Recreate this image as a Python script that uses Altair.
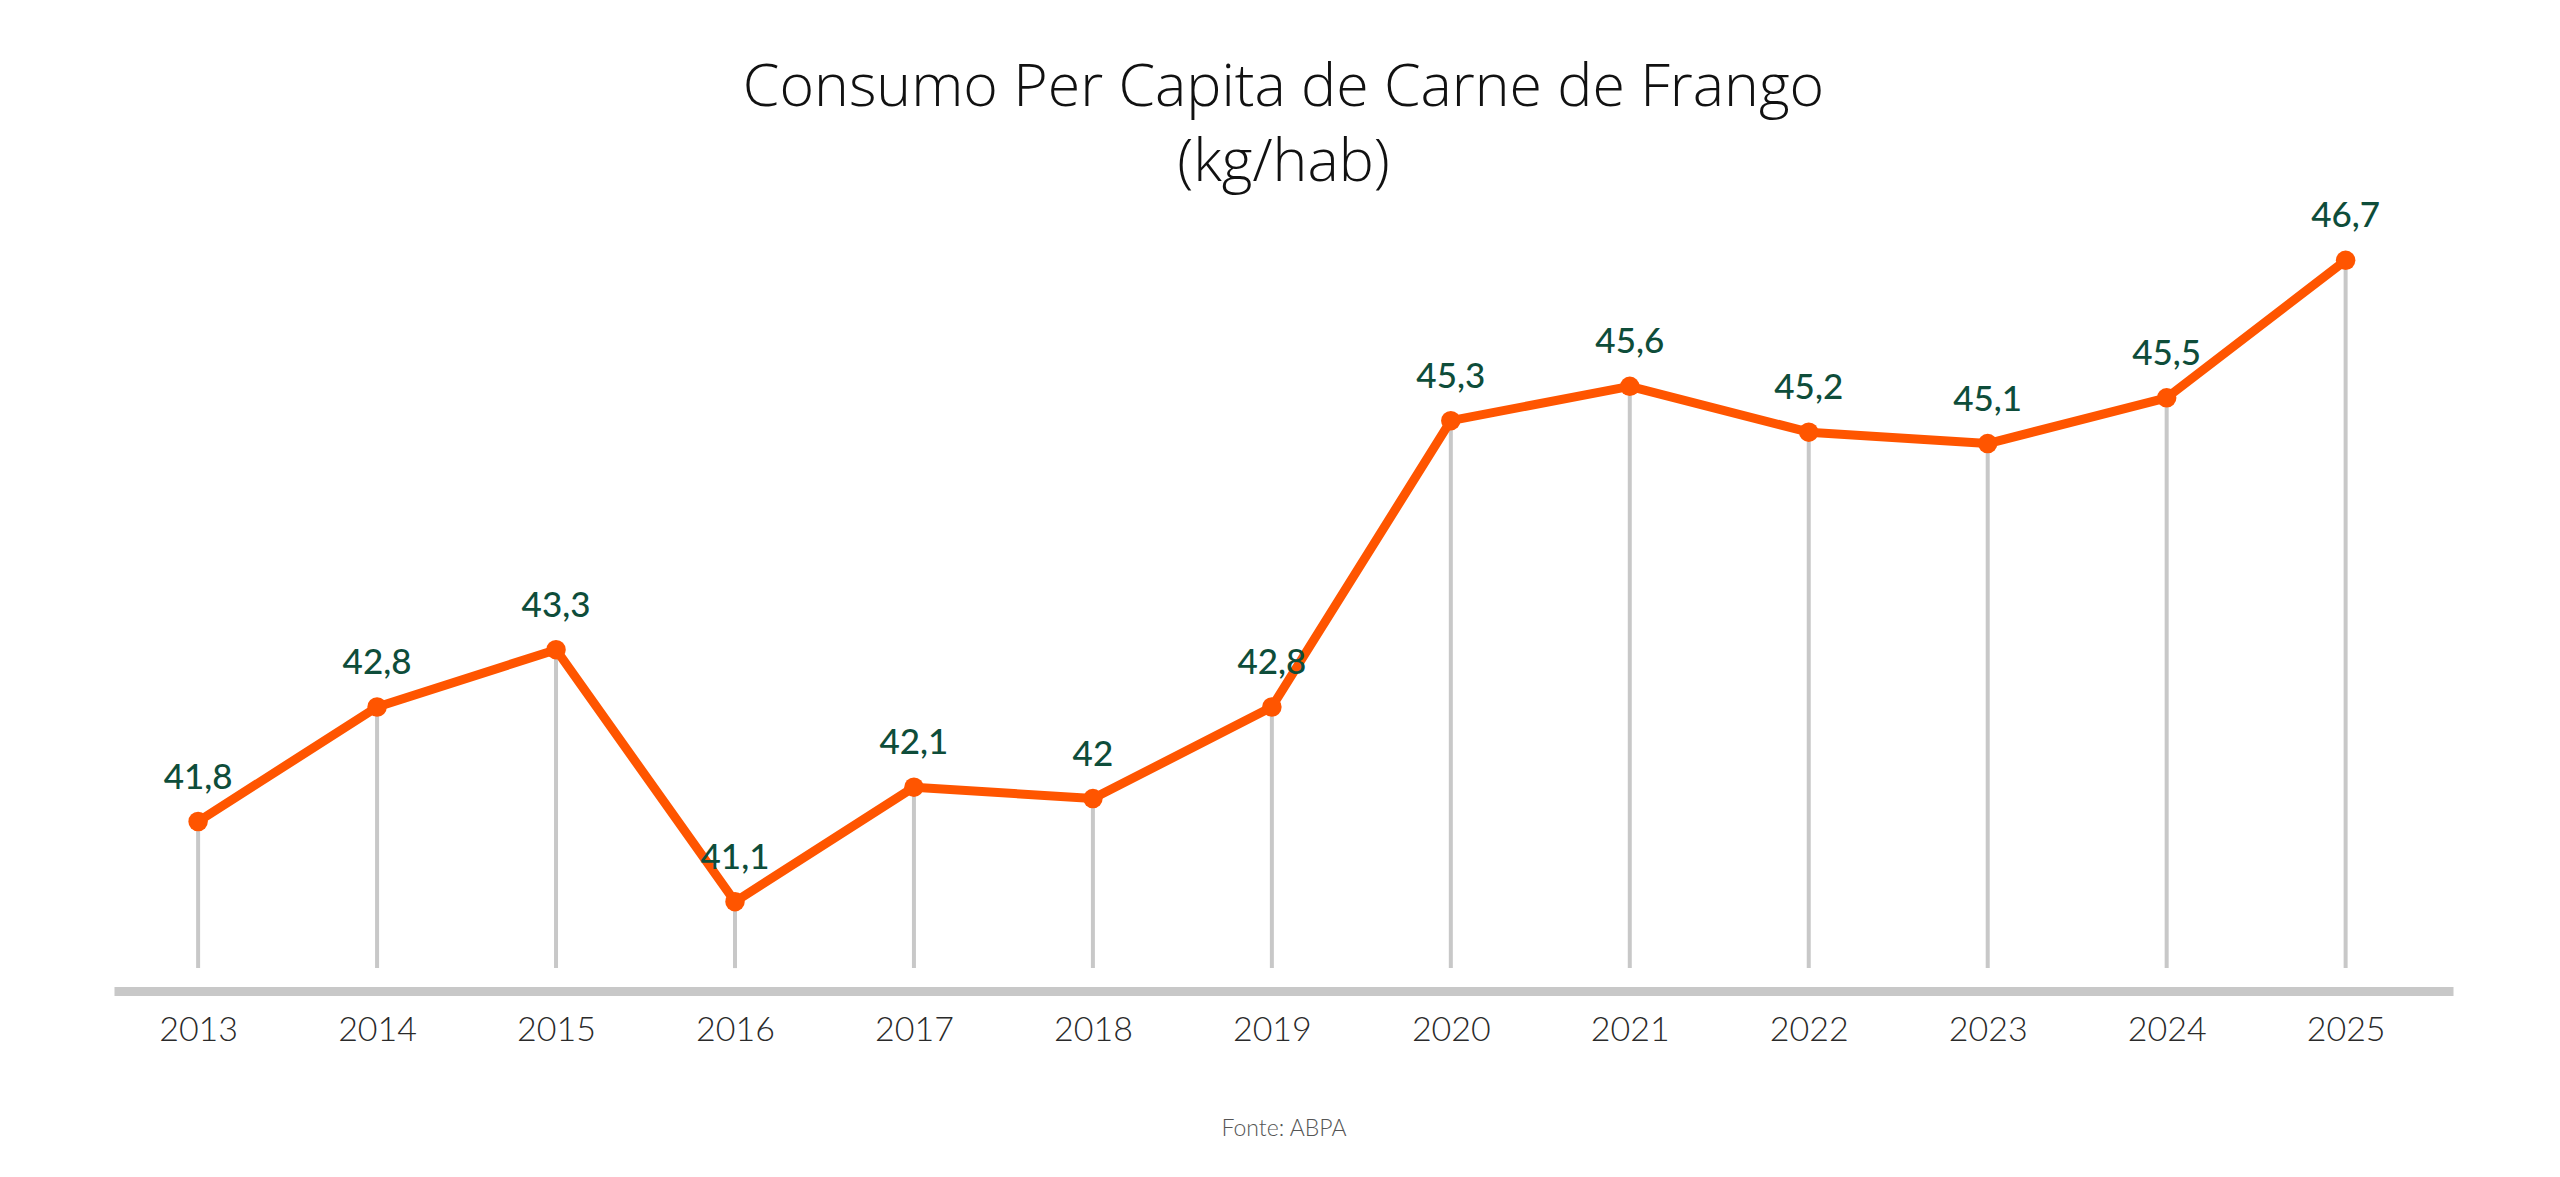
import altair as alt
import pandas as pd

# Consumo per capita de carne de frango no Brasil (kg/hab)
anos = [2013, 2014, 2015, 2016, 2017, 2018, 2019, 2020, 2021, 2022, 2023, 2024, 2025]
consumo = [41.8, 42.8, 43.3, 41.1, 42.1, 42.0, 42.8, 45.3, 45.6, 45.2, 45.1, 45.5, 46.7]

titulo = ["Consumo Per Capita de Carne de Frango", "(kg/hab)"]
fonte = "Fonte: ABPA"

df = pd.DataFrame({"ano": anos, "consumo": consumo})
df["rotulo"] = [f"{v:g}".replace(".", ",") for v in consumo]
df["base"] = 40.52

LARANJA = "#FF5500"
CINZA = "#C8C8C8"
VERDE = "#0E4D3A"

x = alt.X(
    "ano:Q",
    scale=alt.Scale(domain=[2012.53, 2025.6], nice=False, zero=False),
    axis=alt.Axis(
        values=anos,
        format="d",
        grid=False,
        ticks=False,
        domain=True,
        domainColor=CINZA,
        domainWidth=9,
        labelFont="Lato",
        labelFontWeight=300,
        labelFontSize=34,
        labelColor="#2A2A2A",
        labelPadding=22,
        title=fonte,
        titleFont="Lato",
        titleFontWeight=300,
        titleFontSize=23,
        titleColor="#555555",
        titlePadding=70,
    ),
)
y = alt.Y(
    "consumo:Q",
    scale=alt.Scale(domain=[40.32, 47.0], nice=False, zero=False),
    axis=None,
)

hastes = alt.Chart(df).mark_rule(color=CINZA, strokeWidth=4).encode(
    x=x, y=y, y2="base:Q"
)
linha = alt.Chart(df).mark_line(color=LARANJA, strokeWidth=9, strokeJoin="round").encode(
    x=x, y=y
)
pontos = alt.Chart(df).mark_circle(color=LARANJA, opacity=1, size=380).encode(
    x=x, y=y
)
rotulos = alt.Chart(df).mark_text(
    font="Lato",
    fontSize=35,
    fontWeight=500,
    color=VERDE,
    align="center",
    baseline="alphabetic",
    dy=-33,
).encode(x=x, y=y, text="rotulo:N")

chart = (
    alt.layer(hastes, linha, pontos, rotulos)
    .properties(
        width=2339,
        height=765,
        autosize=alt.AutoSizeParams(type="none"),
        padding={"left": 114, "top": 226, "right": 107, "bottom": 186},
        title=alt.TitleParams(
            text=titulo,
            anchor="middle",
            frame="group",
            font="Open Sans",
            fontWeight=300,
            fontSize=59,
            color="#111111",
            lineHeight=75,
            offset=6,
        ),
    )
    .configure(background="white")
    .configure_view(stroke="transparent", strokeWidth=0)
)

chart.save("out.html", embed_options={"renderer": "svg", "actions": False})
